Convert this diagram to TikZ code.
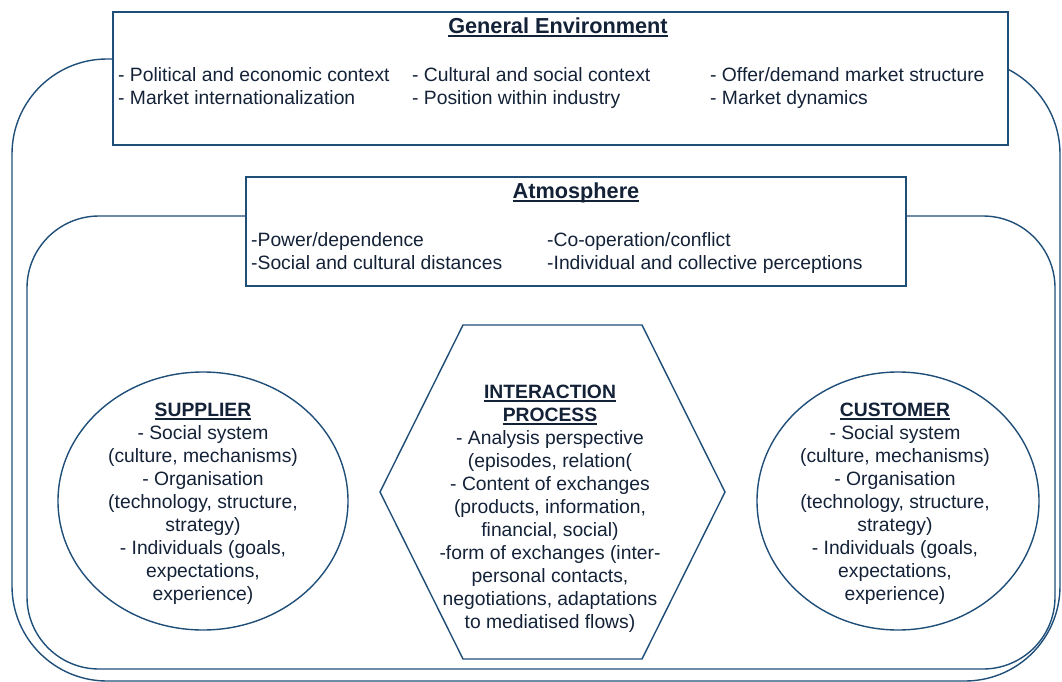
\documentclass[tikz,border=0pt]{standalone}
\usepackage{fontspec}
\setmainfont{Liberation Sans}
\usepackage{xcolor}
\usetikzlibrary{positioning}
\definecolor{frame}{HTML}{1F4E79}
\definecolor{ink}{HTML}{142238}

% bold heading with a thick underline
\newcommand{\ulbf}[1]{{\bfseries\setbox0\hbox{#1}\rlap{\rule[-3.6pt]{\wd0}{2pt}}\box0}}

\begin{document}
\begin{tikzpicture}[x=1pt, y=-1pt,
    every node/.style={text=ink, font=\fontsize{19.3}{23}\selectfont, inner sep=0pt},
    headline/.style={font=\fontsize{21.7}{25}\selectfont, anchor=base},
    frameline/.style={draw=frame, line width=1.4pt},
    box/.style={frameline, fill=white},
    col/.style={align=left, anchor=north west, execute at begin node=\strut},
    party/.style={align=center}
  ]
  \useasboundingbox (0,0) rectangle (1062,682);

  % the two rings
  \draw[frameline, rounded corners=95pt] (12,59) rectangle (1060,681);
  \draw[frameline, rounded corners=72pt] (27,216) rectangle (1055,669);

  % general environment
  \draw[box] (113,12) rectangle (1008,145);
  \node[headline] (envtitle) at (558,33.5) {\ulbf{General Environment}};
  \node[col] (env1) at (118,67) {- Political and economic context\\- Market internationalization};
  \node[col] (env2) at (412,67) {- Cultural and social context\\- Position within industry};
  \node[col] (env3) at (710,67) {- Offer/demand market structure\\- Market dynamics};

  % atmosphere
  \draw[box] (246,177) rectangle (906,286);
  \node[headline] (atmtitle) at (576,198) {\ulbf{Atmosphere}};
  \node[col] (atm1) at (251,232) {-Power/dependence\\-Social and cultural distances};
  \node[col] (atm2) at (547,232) {-Co-operation/conflict\\-Individual and collective perceptions};

  % parties and interaction
  \draw[frameline, fill=white] (203,501) ellipse [x radius=145pt, y radius=129pt];
  \draw[frameline, fill=white] (898,501) ellipse [x radius=141pt, y radius=129pt];
  \draw[frameline, fill=white] (380,492) -- (463,325) -- (642,325) -- (725,492)
        -- (642,659) -- (463,659) -- cycle;

  \node[party] (supplier) at (203,504)
        {\ulbf{SUPPLIER}\\- Social system\\(culture, mechanisms)\\- Organisation\\
         (technology, structure,\\strategy)\\- Individuals (goals,\\expectations,\\experience)};
  \node[party] (customer) at (895,504)
        {\ulbf{CUSTOMER}\\- Social system\\(culture, mechanisms)\\- Organisation\\
         (technology, structure,\\strategy)\\- Individuals (goals,\\expectations,\\experience)};
  \node[party] (interaction) at (550,509)
        {\ulbf{INTERACTION}\\\ulbf{PROCESS}\\- Analysis perspective\\(episodes, relation(\\
         - Content of exchanges\\(products, information,\\financial, social)\\
         -form of exchanges (inter-\\personal contacts,\\negotiations, adaptations\\
         to mediatised flows)};
\end{tikzpicture}
\end{document}
